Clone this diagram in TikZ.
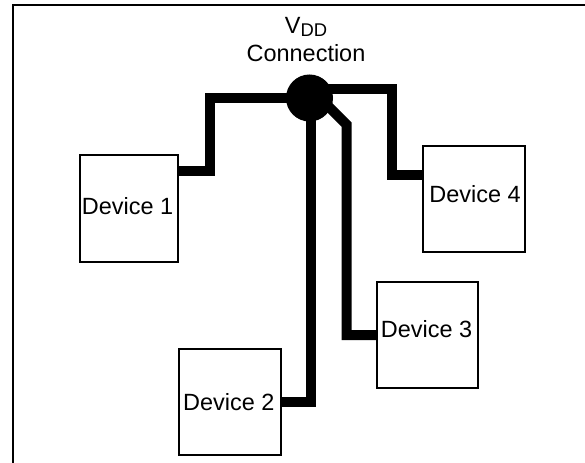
\documentclass[tikz,border=0pt]{standalone}
\usepackage{fontspec}
\setmainfont{Liberation Sans}
\begin{document}
\begin{tikzpicture}[x=0.75pt,y=-0.75pt,
  devbox/.style={draw=black,line width=1.5pt,inner sep=0pt,outer sep=0pt,fill=white},
  devtext/.style={font=\fontsize{17.6pt}{21pt}\selectfont,inner sep=0pt},
  wire/.style={line width=7.5pt,line join=miter,line cap=butt,draw=black},
  frameline/.style={line width=1.5pt,draw=black}]
\useasboundingbox (0,0) rectangle (585,463);
% frame
\coordinate (f1) at (13,463);
\coordinate (f2) at (13,5);
\coordinate (f3) at (585,5);
\draw[frameline] (f1) -- (f2) -- (f3);
% devices
\node[devbox,minimum width=73.5pt,minimum height=79.9pt] (d1) at (128.5,208.3) {};
\node[devbox,minimum width=76.8pt,minimum height=79.7pt] (d4) at (473.8,199.2) {};
\node[devbox,minimum width=76pt,minimum height=79.3pt] (d3) at (427.4,334.9) {};
\node[devbox,minimum width=76.8pt,minimum height=79.7pt] (d2) at (229.8,401.9) {};
\node[devtext] (t1) at (127.5,206) {Device 1};
\node[devtext] (t4) at (475,194) {Device 4};
\node[devtext] (t3) at (426.5,329) {Device 3};
\node[devtext] (t2) at (228.8,402) {Device 2};
% VDD junction
\node[circle,fill=black,inner sep=0pt,minimum size=35.25pt] (vdd) at (309.5,98) {};
% wires
\coordinate (w1) at (210,170.7);
\coordinate (w1b) at (210,98);
\draw[wire] (d1.east |- w1) -- (w1) -- (w1b) -- (vdd.center);
\coordinate (w4a) at (392,88.7);
\coordinate (w4b) at (392,175);
\draw[wire] (vdd.center |- w4a) -- (w4a) -- (w4b) -- (d4.west |- w4b);
\coordinate (w2) at (311,402);
\draw[wire] (w2 |- vdd.center) -- (w2) -- (d2.east |- w2);
\coordinate (w3a) at (318,96);
\coordinate (w3b) at (346.5,124.5);
\coordinate (w3c) at (346.5,335);
\draw[wire] (w3a) -- (w3b) -- (w3c) -- (d3.west |- w3c);
% labels
\node[devtext,anchor=base] (vddlabel) at (306,34) {V\raisebox{-2pt}{\fontsize{13.8pt}{16pt}\selectfont DD}};
\node[devtext,anchor=base] (connlabel) at (306,62) {Connection};
\end{tikzpicture}
\end{document}
